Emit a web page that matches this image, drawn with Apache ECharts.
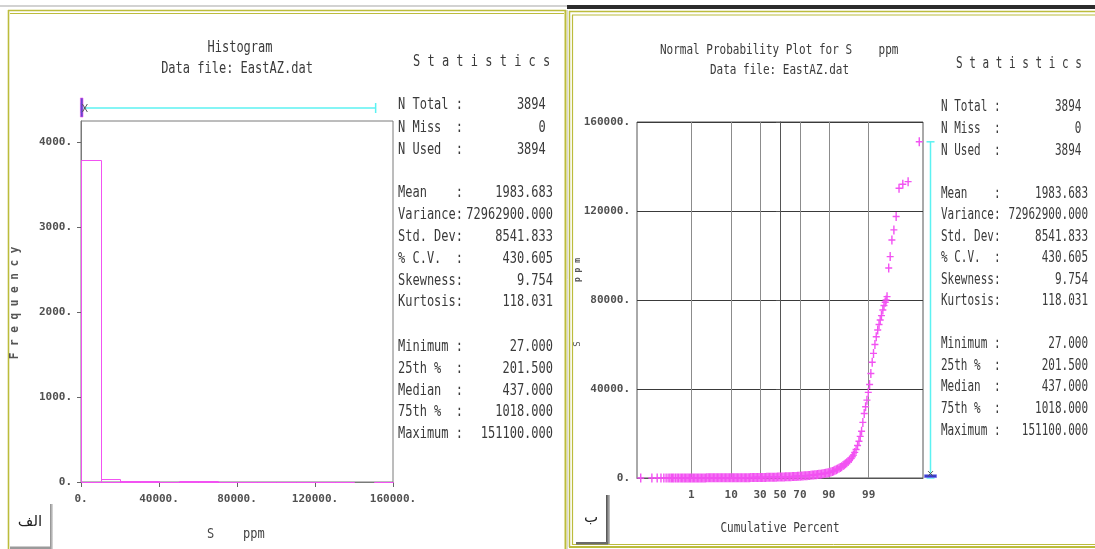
<!DOCTYPE html>
<html>
<head>
<meta charset="utf-8">
<title>S ppm – Histogram and Normal Probability Plot</title>
<script src="https://cdn.jsdelivr.net/npm/echarts@6/dist/echarts.min.js"></script>
<style>
  html, body { margin: 0; padding: 0; background: #ffffff; }
  #chart { width: 1095px; height: 549px; }
</style>
</head>
<body>
<div id="chart"></div>
<script>
// ---------------------------------------------------------------------------
// Data: S (ppm), file EastAZ.dat
// ---------------------------------------------------------------------------

// Histogram bins (10000 ppm wide); a null count marks a slot with no bin drawn
const histBinEdges = [0, 10000, 20000, 30000, 40000, 50000, 60000, 70000, 80000,
                      90000, 100000, 110000, 120000, 130000, 140000, 150000, 160000];
const histCounts   = [3788, 35, 15, 15, 4, 12, 10, 3, 2, 2, 2, 2, 0, 3, null, 1];

// Axis tick values
const freqTicks  = [0, 1000, 2000, 3000, 4000];
const histXTicks = [0, 40000, 80000, 120000, 160000];
const probTicks  = [1, 10, 30, 50, 70, 90, 99];

// Normal probability plot: [cumulative percent, S (ppm)]
const probPoints = [
  [0.013, 27], [0.039, 28], [0.064, 29], [0.090, 30], [0.116, 31],
  [0.141, 32], [0.167, 33], [0.193, 33], [0.218, 34], [0.244, 35],
  [0.27, 36], [0.31, 36], [0.35, 37], [0.39, 37], [0.44, 38], [0.49, 38],
  [0.54, 39], [0.60, 39], [0.66, 40], [0.73, 40], [0.80, 41], [0.88, 41],
  [0.96, 42], [1.06, 43], [1.16, 44], [1.27, 45], [1.39, 46], [1.52, 47],
  [1.66, 49], [1.81, 50], [1.97, 52], [2.15, 53], [2.33, 55], [2.53, 56],
  [2.74, 58], [2.98, 60], [3.22, 62], [3.48, 64], [3.75, 66], [4.05, 68],
  [4.36, 70], [4.70, 71], [5.05, 73], [5.43, 75], [5.82, 78], [6.24, 80],
  [6.68, 83], [7.15, 86], [7.64, 89], [8.16, 92], [8.69, 95], [9.26, 98],
  [9.85, 101], [10.5, 104], [11.1, 108], [11.8, 112], [12.5, 116], [13.2, 120],
  [14.0, 124], [14.8, 128], [15.6, 133], [16.5, 138], [17.4, 144], [18.3, 150],
  [19.2, 155], [20.2, 161], [21.2, 168], [22.2, 176], [23.3, 184], [24.4, 194],
  [25.5, 204], [26.6, 213], [27.8, 222], [29.0, 230], [30.2, 238], [31.4, 247],
  [32.6, 257], [33.9, 267], [35.2, 278], [36.5, 289], [37.8, 300], [39.1, 312],
  [40.5, 325], [41.9, 338], [43.3, 352], [44.6, 367], [46.0, 383], [47.4, 399],
  [48.8, 415], [50.2, 437], [51.6, 458], [53.0, 477], [54.4, 497], [55.7, 516],
  [57.1, 536], [58.5, 557], [59.9, 578], [61.2, 604], [62.6, 630], [63.9, 657],
  [65.2, 685], [66.4, 720], [67.7, 755], [68.9, 795], [70.2, 835], [71.4, 877],
  [72.6, 920], [73.7, 965], [74.9, 1010], [76.0, 1065], [77.0, 1120], [78.0, 1175],
  [79.1, 1230], [80.1, 1295], [81.1, 1360], [82.0, 1430], [82.9, 1500], [83.8, 1570],
  [84.6, 1640], [85.4, 1730], [86.2, 1820], [87.0, 1920], [87.7, 2020], [88.4, 2130],
  [89.1, 2250], [89.7, 2400], [90.3, 2550], [90.9, 2750], [91.5, 2950], [92.0, 3200],
  [92.5, 3450], [93.0, 3700], [93.4, 4000], [93.9, 4350], [94.3, 4700], [94.7, 5100],
  [95.1, 5600], [95.4, 6000], [95.7, 6400], [96.0, 6900], [96.3, 7400], [96.6, 8100],
  [96.9, 8800], [97.1, 9500], [97.3, 10300], [97.5, 11500], [97.7, 12800], [97.9, 14600],
  [98.08, 16500], [98.23, 18700], [98.38, 21000], [98.51, 25000], [98.64, 29000],
  [98.76, 32000], [98.87, 35000], [98.97, 38500], [99.06, 42000], [99.14, 47000],
  [99.22, 52000], [99.29, 56000], [99.36, 60000], [99.42, 63500], [99.48, 66500],
  [99.53, 69000], [99.57, 71000], [99.61, 73000], [99.65, 75500], [99.68, 77500],
  [99.71, 79000], [99.73, 80000], [99.75, 81500],
  [99.782, 94400], [99.807, 99500], [99.833, 107000], [99.859, 111500], [99.884, 117500],
  [99.910, 130200], [99.936, 132000], [99.961, 133200], [99.987, 151100]
];

// Summary statistics panel
const statLabels = [
  'N Total :', 'N Miss  :', 'N Used  :',
  'Mean    :', 'Variance:', 'Std. Dev:', '% C.V.  :', 'Skewness:', 'Kurtosis:',
  'Minimum :', '25th %  :', 'Median  :', '75th %  :', 'Maximum :'
];
const statValues = [
  '3894', '0', '3894',
  '1983.683', '72962900.000', '8541.833', '430.605', '9.754', '118.031',
  '27.000', '201.500', '437.000', '1018.000', '151100.000'
];

// ---------------------------------------------------------------------------
// Helpers
// ---------------------------------------------------------------------------

// Inverse standard normal CDF (Acklam) – maps cumulative probability to z
function probit(p) {
  const a = [-3.969683028665376e+01, 2.209460984245205e+02, -2.759285104469687e+02,
             1.383577518672690e+02, -3.066479806614716e+01, 2.506628277459239e+00];
  const b = [-5.447609879822406e+01, 1.615858368580409e+02, -1.556989798598866e+02,
             6.680131188771972e+01, -1.328068155288572e+01];
  const c = [-7.784894002430293e-03, -3.223964580411365e-01, -2.400758277161838e+00,
             -2.549732539343734e+00, 4.374664141464968e+00, 2.938163982698783e+00];
  const d = [7.784695709041462e-03, 3.224671290700398e-01, 2.445134137142996e+00,
             3.754408661907416e+00];
  const pl = 0.02425, ph = 1 - pl;
  let q, r;
  if (p < pl) {
    q = Math.sqrt(-2 * Math.log(p));
    return (((((c[0]*q+c[1])*q+c[2])*q+c[3])*q+c[4])*q+c[5]) /
           ((((d[0]*q+d[1])*q+d[2])*q+d[3])*q+1);
  }
  if (p <= ph) {
    q = p - 0.5; r = q * q;
    return (((((a[0]*r+a[1])*r+a[2])*r+a[3])*r+a[4])*r+a[5])*q /
           (((((b[0]*r+b[1])*r+b[2])*r+b[3])*r+b[4])*r+1);
  }
  q = Math.sqrt(-2 * Math.log(1 - p));
  return -(((((c[0]*q+c[1])*q+c[2])*q+c[3])*q+c[4])*q+c[5]) /
          ((((d[0]*q+d[1])*q+d[2])*q+d[3])*q+1);
}

const num = s => parseFloat(s);
const summary = {
  mean: num(statValues[3]),
  min: num(statValues[9]), q1: num(statValues[10]), median: num(statValues[11]),
  q3: num(statValues[12]), max: num(statValues[13])
};

const MONO = '"DejaVu Sans Mono", "Liberation Mono", monospace';
const TEXT = '#3a3a3a';
const OLIVE = '#bcbc3c';
const MAGENTA = '#f252f2';
const CYAN = '#5cf2f2';

function txt(x, y, s, size, o) {
  o = o || {};
  return {
    type: 'text', x: x, y: y,
    scaleY: o.sy == null ? 1.3 : o.sy,
    rotation: o.rot || 0,
    silent: true, z: 10,
    style: {
      text: s,
      font: (o.bold ? 'bold ' : '') + size + 'px ' + (o.family || MONO),
      fill: o.color || TEXT,
      textAlign: o.align || 'left',
      textVerticalAlign: 'middle'
    }
  };
}
function hline(x1, x2, y, color, w) {
  return { type: 'line', silent: true, z: 5,
           shape: { x1: x1, y1: y, x2: x2, y2: y },
           style: { stroke: color, lineWidth: w || 1 } };
}
function vline(x, y1, y2, color, w) {
  return { type: 'line', silent: true, z: 5,
           shape: { x1: x, y1: y1, x2: x, y2: y2 },
           style: { stroke: color, lineWidth: w || 1 } };
}

// statistics block
function statBlock(xLabel, xValue, yHeader, rowYs, size, sy) {
  const els = [];
  els.push(txt(xLabel + 15, yHeader, 'S t a t i s t i c s', size, { sy: sy }));
  statLabels.forEach((lab, i) => {
    els.push(txt(xLabel, rowYs[i], lab, size, { sy: sy }));
    const v = statValues[i].indexOf('.') < 0 ? statValues[i] + ' ' : statValues[i];
    els.push(txt(xValue, rowYs[i], v, size, { sy: sy, align: 'right' }));
  });
  return els;
}

// ---------------------------------------------------------------------------
// Frames, titles and labels
// ---------------------------------------------------------------------------
const graphics = [
  // window edges along the top
  { type: 'rect', silent: true, shape: { x: 0, y: 5, width: 568, height: 2 }, style: { fill: '#d2d2d2' } },
  { type: 'rect', silent: true, shape: { x: 567, y: 5, width: 528, height: 4 }, style: { fill: '#2c2c2c' } },

  // left panel border
  hline(8, 566, 10.5, OLIVE, 1.5), hline(10, 564, 13.5, OLIVE, 1.2),
  vline(8.5, 10, 549, OLIVE, 1.6), vline(565.5, 10, 549, OLIVE, 2),
  vline(567.5, 10, 549, '#d8d8d8', 1),

  // right panel border
  hline(569, 1095, 11.5, OLIVE, 1.5), hline(572, 1095, 15, OLIVE, 1.2),
  vline(569.5, 11, 547, OLIVE, 1.5), vline(572.5, 15, 545, OLIVE, 1.2),
  hline(569, 1095, 547, OLIVE, 2), hline(572, 1095, 544.5, OLIVE, 1),

  // panel tags
  { type: 'rect', silent: true, z: 6, shape: { x: 50, y: 504, width: 3, height: 45 },
    style: { fill: new echarts.graphic.LinearGradient(0, 0, 1, 0, [{ offset: 0, color: '#8a8a8a' }, { offset: 1, color: '#e0e0e0' }]) } },
  { type: 'rect', silent: true, z: 6, shape: { x: 10, y: 546.5, width: 41, height: 2.5 }, style: { fill: '#9a9a9a' } },
  txt(30, 522, 'الف', 15, { sy: 1, family: '"DejaVu Sans", "Noto Sans", sans-serif', align: 'center', color: '#222' }),

  { type: 'rect', silent: true, z: 6, shape: { x: 606, y: 495, width: 4, height: 49 },
    style: { fill: new echarts.graphic.LinearGradient(0, 0, 1, 0, [{ offset: 0, color: '#4a4a4a' }, { offset: 1, color: '#c8c8c8' }]) } },
  { type: 'rect', silent: true, z: 6, shape: { x: 576, y: 542, width: 32, height: 2.5 }, style: { fill: '#6a6a6a' } },
  txt(591, 518, 'ب', 15, { sy: 1, family: '"DejaVu Sans", "Noto Sans", sans-serif', align: 'center', color: '#222' }),

  // left panel titles and axis names
  txt(240, 48, 'Histogram', 12, { align: 'center' }),
  txt(237, 69, 'Data file: EastAZ.dat', 12, { align: 'center' }),
  txt(15, 303, 'F r e q u e n c y', 11, { bold: true, rot: Math.PI / 2, sy: 1.1, align: 'center', color: '#555' }),
  txt(207, 535, 'S    ppm', 12, { sy: 1.1, color: '#444' }),

  // right panel titles and axis names
  txt(660, 50, 'Normal Probability Plot for S    ppm', 11, { sy: 1.3 }),
  txt(710, 70, 'Data file: EastAZ.dat', 11, { sy: 1.3 }),
  txt(780, 528, 'Cumulative Percent', 11, { align: 'center', sy: 1.3 }),
  txt(578, 344, 'S', 9, { rot: Math.PI / 2, sy: 1, align: 'center', color: '#555' }),
  txt(578, 270, 'p p m', 8, { rot: Math.PI / 2, sy: 1, align: 'center', color: '#555', bold: true })
]
  .concat(statBlock(398, 553, 62,
    [105, 128, 150, 193, 215, 237, 259, 281, 302, 347, 369, 391, 412, 434], 12, 1.3))
  .concat(statBlock(941, 1088, 64,
    [107, 129, 151, 194, 215, 237, 258, 280, 301, 344, 366, 387, 409, 431], 11, 1.45));

// ---------------------------------------------------------------------------
// Chart
// ---------------------------------------------------------------------------
const chart = echarts.init(document.getElementById('chart'), null, { renderer: 'canvas' });

const probZTicks = probTicks.map(p => probit(p / 100));
const axisLabelFont = { fontFamily: MONO, fontSize: 11, fontWeight: 'bold', color: '#505050' };

const option = {
  animation: false,
  backgroundColor: '#ffffff',
  textStyle: { fontFamily: MONO },
  grid: [
    { left: 81, top: 121, width: 312, height: 361, show: true, borderColor: '#7a7a7a', borderWidth: 1, backgroundColor: 'transparent' },
    { left: 637, top: 122, width: 286, height: 356, show: true, borderColor: '#555555', borderWidth: 1, backgroundColor: 'transparent' }
  ],
  xAxis: [
    {
      gridIndex: 0, type: 'value', min: 0, max: 160000,
      axisLine: { show: true, lineStyle: { color: '#7a7a7a' } },
      axisTick: { show: true, inside: false, length: 5, customValues: histXTicks, lineStyle: { color: '#666' } },
      axisLabel: Object.assign({ customValues: histXTicks, margin: 12, formatter: v => v + '.' }, axisLabelFont),
      splitLine: { show: false }
    },
    {
      gridIndex: 1, type: 'value', min: -3.75, max: 3.75,
      axisLine: { show: true, lineStyle: { color: '#555' } },
      axisTick: { show: false, customValues: probZTicks },
      axisLabel: Object.assign({
        customValues: probZTicks, margin: 12,
        formatter: v => {
          let best = probTicks[0], bd = Infinity;
          probTicks.forEach((p, i) => { const dd = Math.abs(probZTicks[i] - v); if (dd < bd) { bd = dd; best = p; } });
          return String(best);
        }
      }, axisLabelFont),
      splitLine: { show: true, lineStyle: { color: '#8c8c8c', width: 1 } }
    }
  ],
  yAxis: [
    {
      gridIndex: 0, type: 'value', min: 0, max: 4250,
      axisLine: { show: true, lineStyle: { color: '#7a7a7a' } },
      axisTick: { show: true, inside: false, length: 4, customValues: freqTicks, lineStyle: { color: '#666' } },
      axisLabel: Object.assign({ customValues: freqTicks, margin: 9, formatter: v => v + '.' }, axisLabelFont),
      splitLine: { show: false }
    },
    {
      gridIndex: 1, type: 'value', min: 0, max: 160000, interval: 40000,
      axisLine: { show: true, lineStyle: { color: '#555' } },
      axisTick: { show: true, inside: false, length: 4, lineStyle: { color: '#555' } },
      axisLabel: Object.assign({ margin: 7, formatter: v => v + '.' }, axisLabelFont),
      splitLine: { show: true, lineStyle: { color: '#3a3a3a', width: 1 } }
    }
  ],
  graphic: { elements: graphics },
  series: [
    // histogram bars, outlined
    {
      type: 'custom', xAxisIndex: 0, yAxisIndex: 0, silent: true, z: 3,
      data: histCounts.map((c, i) => [histBinEdges[i], histBinEdges[i + 1], c == null ? 0 : c]),
      renderItem(params, api) {
        if (histCounts[params.dataIndex] == null) return null;
        const p0 = api.coord([api.value(0), api.value(2)]);
        const p1 = api.coord([api.value(1), 0]);
        const x0 = Math.round(p0[0]), x1 = Math.round(p1[0]);
        const y0 = Math.round(p0[1]), y1 = Math.round(p1[1]);
        return {
          type: 'rect',
          shape: { x: x0 + 0.5, y: y0 + 0.5, width: x1 - x0, height: y1 - y0 },
          style: { fill: 'none', stroke: MAGENTA, lineWidth: 1 }
        };
      }
    },
    // range bar above the histogram: min–max whisker, quartile box, mean
    {
      type: 'custom', xAxisIndex: 0, yAxisIndex: 0, silent: true, z: 4,
      data: [0],
      renderItem(params, api) {
        const y = api.coord([0, 4250])[1] - 13;
        const xs = k => api.coord([summary[k], 0])[0];
        const xMin = xs('min'), xMax = xs('max'), xQ1 = xs('q1'), xQ3 = xs('q3'), xMean = xs('mean');
        return {
          type: 'group',
          children: [
            { type: 'line', shape: { x1: xMin, y1: y, x2: xMax, y2: y }, style: { stroke: CYAN, lineWidth: 1.5 } },
            { type: 'line', shape: { x1: xMax, y1: y - 5, x2: xMax, y2: y + 5 }, style: { stroke: CYAN, lineWidth: 1.5 } },
            { type: 'line', shape: { x1: xMin, y1: y - 5, x2: xMin, y2: y + 5 }, style: { stroke: CYAN, lineWidth: 1.5 } },
            { type: 'rect', shape: { x: xQ1 - 1, y: y - 10, width: Math.max(2.5, xQ3 - xQ1 + 1), height: 19 },
              style: { fill: '#6646cc', stroke: MAGENTA, lineWidth: 0.6 } },
            { type: 'line', shape: { x1: xMean - 2.5, y1: y - 4, x2: xMean + 2.5, y2: y + 4 }, style: { stroke: '#555', lineWidth: 1 } },
            { type: 'line', shape: { x1: xMean - 2.5, y1: y + 4, x2: xMean + 2.5, y2: y - 4 }, style: { stroke: '#555', lineWidth: 1 } }
          ]
        };
      }
    },
    // normal probability points (percent mapped to normal score z)
    {
      type: 'scatter', xAxisIndex: 1, yAxisIndex: 1, silent: true, z: 3,
      symbol: 'path://M0,3.8H7V5.2H0Z M2.8,0H4.2V9H2.8Z',
      symbolSize: [7, 9],
      itemStyle: { color: MAGENTA, opacity: 1 },
      data: probPoints.map(d => [probit(d[0] / 100), d[1]])
    },
    // range bar to the right of the probability plot
    {
      type: 'custom', xAxisIndex: 1, yAxisIndex: 1, silent: true, z: 4,
      data: [0],
      renderItem(params, api) {
        const x = api.coord([3.75, 0])[0] + 7.5;
        const ys = k => api.coord([0, summary[k]])[1];
        const yMin = ys('min'), yMax = ys('max'), yQ1 = ys('q1'), yQ3 = ys('q3'), yMean = ys('mean');
        return {
          type: 'group',
          children: [
            { type: 'line', shape: { x1: x, y1: yMax, x2: x, y2: yMin }, style: { stroke: CYAN, lineWidth: 1.5 } },
            { type: 'line', shape: { x1: x - 4, y1: yMax, x2: x + 4, y2: yMax }, style: { stroke: CYAN, lineWidth: 1.5 } },
            { type: 'line', shape: { x1: x - 4, y1: yMin, x2: x + 4, y2: yMin }, style: { stroke: CYAN, lineWidth: 1.5 } },
            { type: 'rect', shape: { x: x - 6, y: yQ3 - 1, width: 12, height: Math.max(2.5, yQ1 - yQ3 + 1) },
              style: { fill: '#3838c8', stroke: '#6a6af0', lineWidth: 0.6 } },
            { type: 'line', shape: { x1: x - 2.5, y1: yMean - 2.5, x2: x + 2.5, y2: yMean + 2.5 }, style: { stroke: '#555', lineWidth: 1 } },
            { type: 'line', shape: { x1: x - 2.5, y1: yMean + 2.5, x2: x + 2.5, y2: yMean - 2.5 }, style: { stroke: '#555', lineWidth: 1 } }
          ]
        };
      }
    }
  ]
};

chart.setOption(option);
</script>
</body>
</html>
